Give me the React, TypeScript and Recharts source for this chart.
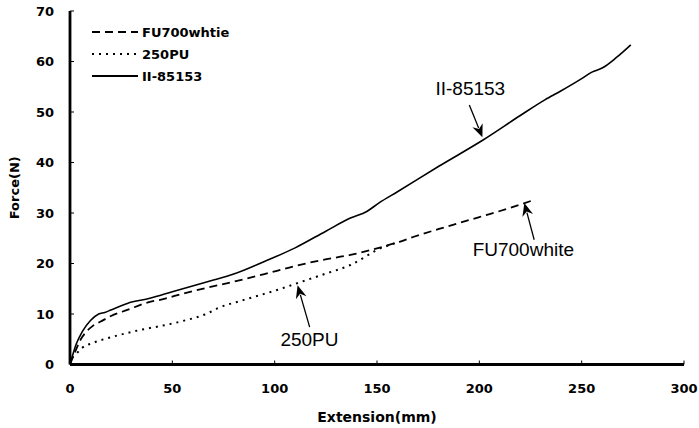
import React from 'react';
import { LineChart, Line, XAxis, YAxis, ReferenceLine, ReferenceDot, Legend } from 'recharts';

// II-85153 (solid)
const iiX = [0, 3, 6, 10, 14, 17, 20, 28, 39, 50, 68, 80, 95, 110, 125, 137, 145, 151, 160, 180, 202, 220, 232, 240, 250, 255, 260, 267, 274];
const iiY = [0, 4, 6.5, 8.7, 10, 10.3, 10.8, 12.1, 13.1, 14.4, 16.5, 17.9, 20.4, 23.1, 26.4, 29, 30.3, 32, 34.2, 39.2, 44.5, 49.3, 52.4, 54.2, 56.6, 57.9, 58.7, 60.8, 63.3];

// FU700whtie (dashed)
const fuX = [0, 3, 5, 8, 11, 15, 20, 28, 39, 44, 55, 68, 80, 95, 109, 122, 137, 150, 161, 168, 185, 200, 215, 226];
const fuY = [0, 3, 4.8, 6.5, 7.6, 8.5, 9.6, 10.8, 12.4, 12.8, 14, 15.3, 16.4, 17.9, 19.4, 20.6, 21.7, 23, 24.3, 25.3, 27.4, 29.2, 31, 32.5];

// 250PU (dotted)
const puX = [0, 1, 3.3, 6, 11.4, 20, 27.6, 35, 44, 55, 67, 72, 85, 100, 111, 125, 137, 145, 150, 155, 161];
const puY = [0, 1.2, 2.2, 3.3, 4.3, 5.4, 6.2, 6.9, 7.6, 8.6, 10.1, 11.1, 12.8, 14.6, 16.1, 18, 19.7, 21.5, 22.7, 23.5, 24.3];

const xTicks = [0, 50, 100, 150, 200, 250, 300];
const yTicks = [0, 10, 20, 30, 40, 50, 60, 70];

const legendNames = ['FU700whtie', '250PU', 'II-85153'];
const legendDash = ['8 5', '2 5', ''];

const toPts = (xs: number[], ys: number[]) => xs.map((x, i) => ({ x, y: ys[i] }));
const iiData = toPts(iiX, iiY);
const fuData = toPts(fuX, fuY);
const puData = toPts(puX, puY);

const BOLD = '"DejaVu Sans", sans-serif';
const ANN = '"Liberation Sans", Arial, sans-serif';

const Arrow = (props: any) => {
  const { x1, y1, x2, y2 } = props;
  const dx = x2 - x1, dy = y2 - y1;
  const len = Math.hypot(dx, dy) || 1;
  const ux = dx / len, uy = dy / len;
  const hl = 13, hw = 5.5;
  const bx = x2 - ux * hl, by = y2 - uy * hl;
  const px = -uy, py = ux;
  return (
    <g>
      <line x1={x1} y1={y1} x2={bx + ux * 3} y2={by + uy * 3} stroke="#000" strokeWidth={1.3} />
      <polygon
        points={`${x2},${y2} ${bx + px * hw},${by + py * hw} ${bx + ux * 4},${by + uy * 4} ${bx - px * hw},${by - py * hw}`}
        fill="#000"
      />
    </g>
  );
};

const makeText = (txt: string) => (p: any) => (
  <text x={p.cx} y={p.cy} textAnchor="middle" dominantBaseline="central" fontFamily={ANN} fontSize={19} fill="#000">
    {txt}
  </text>
);

const LegendBox = () => (
  <div style={{ fontFamily: BOLD, fontWeight: 'bold', fontSize: 13, color: '#000' }}>
    {legendNames.map((n, i) => (
      <div key={n} style={{ display: 'flex', alignItems: 'center', height: 22 }}>
        <svg width={46} height={10} style={{ display: 'block' }}>
          <line x1={0} y1={5} x2={46} y2={5} stroke="#000" strokeWidth={legendDash[i] === '2 5' ? 2 : 1.8} strokeDasharray={legendDash[i] || undefined} />
        </svg>
        <span style={{ marginLeft: 4 }}>{n}</span>
      </div>
    ))}
  </div>
);

export default function App() {
  return (
    <div style={{ position: 'fixed', left: 0, top: 0, background: '#fff' }}>
      <LineChart width={699} height={428} margin={{ top: 11, right: 15, left: 30, bottom: 23.5 }}>
        <XAxis
          dataKey="x"
          type="number"
          domain={[0, 300]}
          ticks={xTicks}
          allowDataOverflow
          height={40}
          axisLine={{ stroke: '#000', strokeWidth: 2.8 }}
          tickLine={{ stroke: '#000', strokeWidth: 1 }}
          tickSize={-4}
          tickMargin={23}
          tick={{ fill: '#000', fontFamily: BOLD, fontWeight: 'bold', fontSize: 13 }}
          label={(p: any) => {
            const vb = p.viewBox || { x: 70, y: 364.5, width: 614 };
            return (
              <text x={vb.x + vb.width / 2} y={vb.y + 57} textAnchor="middle" fontFamily={BOLD} fontWeight="bold" fontSize={14} fill="#000">
                Extension(mm)
              </text>
            );
          }}
        />
        <XAxis xAxisId="top" orientation="top" type="number" domain={[0, 300]} height={0} tick={false} tickLine={false} axisLine={{ stroke: '#000', strokeWidth: 2.6 }} />
        <YAxis
          type="number"
          domain={[0, 70]}
          ticks={yTicks}
          width={40}
          axisLine={{ stroke: '#000', strokeWidth: 2.8 }}
          tickLine={{ stroke: '#000', strokeWidth: 1 }}
          tickSize={-4}
          tickMargin={20}
          tick={{ fill: '#000', fontFamily: BOLD, fontWeight: 'bold', fontSize: 13 }}
          label={(p: any) => {
            const vb = p.viewBox || { x: 30, y: 11, height: 353.5 };
            const cx = 14;
            const cy = vb.y + vb.height / 2;
            return (
              <text x={cx} y={cy} transform={`rotate(-90, ${cx}, ${cy})`} textAnchor="middle" dominantBaseline="central" fontFamily={BOLD} fontWeight="bold" fontSize={13} fill="#000">
                Force(N)
              </text>
            );
          }}
        />
        <YAxis yAxisId="right" orientation="right" type="number" domain={[0, 70]} width={0} tick={false} tickLine={false} axisLine={{ stroke: '#000', strokeWidth: 2.8 }} />
        <Legend layout="horizontal" align="center" verticalAlign="middle" content={<LegendBox />} wrapperStyle={{ position: 'absolute', top: 21, left: 92, width: 200, height: 70 }} />
        <Line data={fuData} dataKey="y" name="FU700whtie" type="monotone" stroke="#000" strokeWidth={1.8} strokeDasharray="8 5" dot={false} isAnimationActive={false} />
        <Line data={puData} dataKey="y" name="250PU" type="monotone" stroke="#000" strokeWidth={2} strokeDasharray="2 5" dot={false} isAnimationActive={false} />
        <Line data={iiData} dataKey="y" name="II-85153" type="monotone" stroke="#000" strokeWidth={1.6} dot={false} isAnimationActive={false} />
        <ReferenceLine segment={[{ x: 195.1, y: 51.4 }, { x: 201.5, y: 45.0 }]} shape={Arrow} />
        <ReferenceLine segment={[{ x: 226.8, y: 24.7 }, { x: 222, y: 32.0 }]} shape={Arrow} />
        <ReferenceLine segment={[{ x: 117.1, y: 7.4 }, { x: 111.2, y: 15.7 }]} shape={Arrow} />
        <ReferenceDot x={195.6} y={54.6} r={0} shape={makeText('II-85153')} />
        <ReferenceDot x={221.5} y={22.7} r={0} shape={makeText('FU700white')} />
        <ReferenceDot x={117} y={5.0} r={0} shape={makeText('250PU')} />
      </LineChart>
    </div>
  );
}
